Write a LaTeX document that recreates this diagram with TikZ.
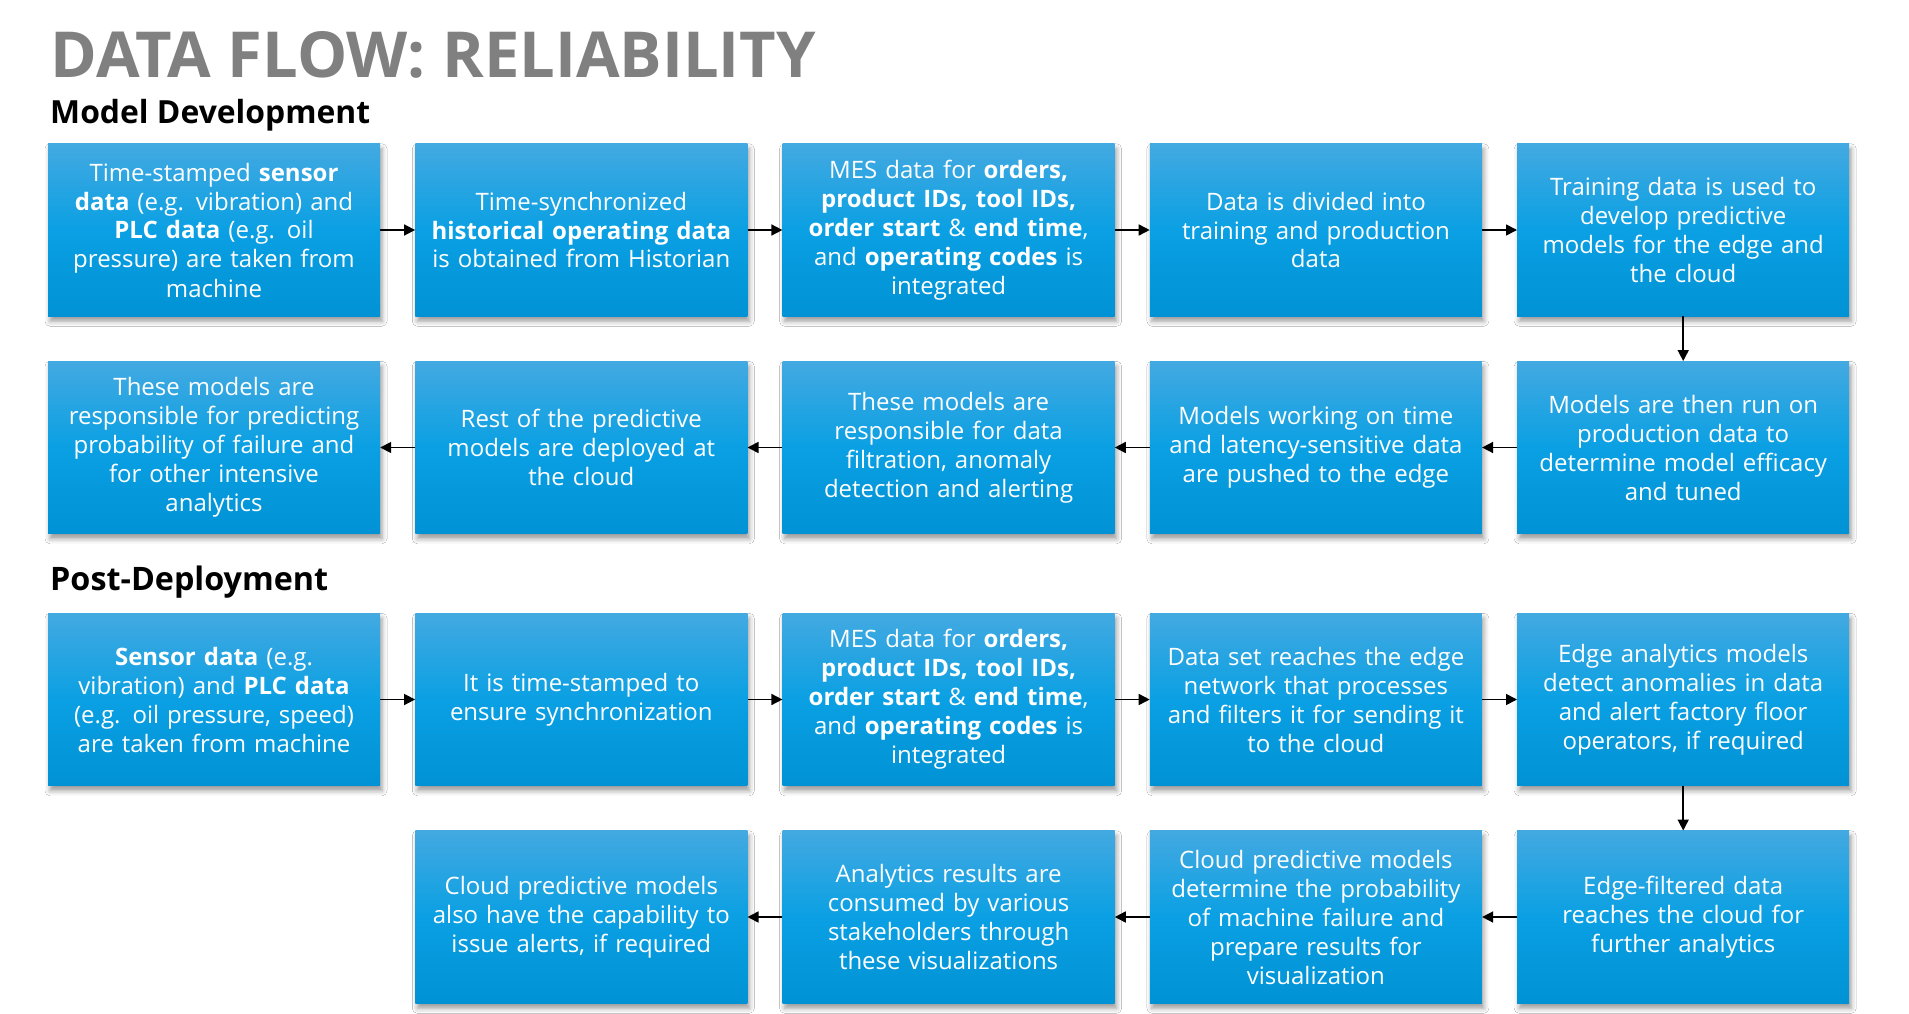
\documentclass[tikz,border=0pt]{standalone}
\usepackage{fontspec}
\setmainfont{Open Sans}
\usetikzlibrary{arrows.meta,shadows.blur}
\definecolor{boxtop}{HTML}{43A9E1}
\definecolor{boxmid}{HTML}{0AA0E3}
\definecolor{boxbot}{HTML}{0092D5}
\definecolor{titlegray}{HTML}{808080}
\tikzset{
  flowbox/.style={rectangle, minimum width=332pt, minimum height=172.5pt, inner sep=0pt,
    text width=326pt, align=center, text=white,
    top color=boxtop, bottom color=boxbot, middle color=boxmid,
    blur shadow={shadow xshift=2pt, shadow yshift=-5pt, shadow blur radius=5pt, shadow opacity=40},
    font=\fontsize{24}{29}\selectfont},
  flowarrow/.style={line width=1.6pt, -{Triangle[length=11pt,width=11pt]}},
  heading/.style={anchor=base west, inner sep=0pt, text=black}
}
\begin{document}
\begin{tikzpicture}[x=1pt,y=-1pt]
\useasboundingbox (0,0) rectangle (1909,1014);
\fill[white] (0,0) rectangle (1909,1014);
% titles
\node[heading, text=titlegray] (title) at (50.5,78) {\resizebox{765pt}{46pt}{\bfseries DATA FLOW: RELIABILITY}};
\node[heading] (mdhead) at (50,124) {\resizebox{320pt}{!}{\fontsize{30}{36}\selectfont\bfseries Model Development}};
\node[heading] (pdhead) at (50,590) {\resizebox{278pt}{!}{\fontsize{30}{36}\selectfont\bfseries Post-Deployment}};
% row 1
\node[flowbox] (a1) at (214,230) {Time-stamped \textbf{sensor}\\ \textbf{data} (e.g. vibration) and\\ \textbf{PLC data} (e.g. oil\\ pressure) are taken from\\ machine};
\node[flowbox] (a2) at (581.3,230) {Time-synchronized\\ \textbf{historical operating data}\\ is obtained from Historian};
\node[flowbox] (a3) at (948.6,230) {MES data for \textbf{orders,}\\ \textbf{product IDs, tool IDs,}\\ \textbf{order start} \& \textbf{end time},\\ and \textbf{operating codes} is\\ integrated};
\node[flowbox] (a4) at (1315.9,230) {Data is divided into\\ training and production\\ data};
\node[flowbox] (a5) at (1683.2,230) {Training data is used to\\ develop predictive\\ models for the edge and\\ the cloud};
% row 2
\node[flowbox] (b5) at (1683.2,447.5) {Models are then run on\\ production data to\\ determine model efficacy\\ and tuned};
\node[flowbox] (b4) at (1315.9,447.5) {Models working on time\\ and latency-sensitive data\\ are pushed to the edge};
\node[flowbox] (b3) at (948.6,447.5) {These models are\\ responsible for data\\ filtration, anomaly\\ detection and alerting};
\node[flowbox] (b2) at (581.3,447.5) {Rest of the predictive\\ models are deployed at\\ the cloud};
\node[flowbox] (b1) at (214,447.5) {These models are\\ responsible for predicting\\ probability of failure and\\ for other intensive\\ analytics};
% row 3
\node[flowbox] (c1) at (214,699.5) {\textbf{Sensor data} (e.g.\\ vibration) and \textbf{PLC data}\\ (e.g. oil pressure, speed)\\ are taken from machine};
\node[flowbox] (c2) at (581.3,699.5) {It is time-stamped to\\ ensure synchronization};
\node[flowbox] (c3) at (948.6,699.5) {MES data for \textbf{orders,}\\ \textbf{product IDs, tool IDs,}\\ \textbf{order start} \& \textbf{end time},\\ and \textbf{operating codes} is\\ integrated};
\node[flowbox] (c4) at (1315.9,699.5) {Data set reaches the edge\\ network that processes\\ and filters it for sending it\\ to the cloud};
\node[flowbox] (c5) at (1683.2,699.5) {Edge analytics models\\ detect anomalies in data\\ and alert factory floor\\ operators, if required};
% row 4
\node[flowbox] (d5) at (1683.2,917) {Edge-filtered data\\ reaches the cloud for\\ further analytics};
\node[flowbox] (d4) at (1315.9,917) {Cloud predictive models\\ determine the probability\\ of machine failure and\\ prepare results for\\ visualization};
\node[flowbox] (d3) at (948.6,917) {Analytics results are\\ consumed by various\\ stakeholders through\\ these visualizations};
\node[flowbox] (d2) at (581.3,917) {Cloud predictive models\\ also have the capability to\\ issue alerts, if required};
% arrows
\draw[flowarrow] (a1) -- (a2);
\draw[flowarrow] (a2) -- (a3);
\draw[flowarrow] (a3) -- (a4);
\draw[flowarrow] (a4) -- (a5);
\draw[flowarrow] (a5) -- (b5);
\draw[flowarrow] (b5) -- (b4);
\draw[flowarrow] (b4) -- (b3);
\draw[flowarrow] (b3) -- (b2);
\draw[flowarrow] (b2) -- (b1);
\draw[flowarrow] (c1) -- (c2);
\draw[flowarrow] (c2) -- (c3);
\draw[flowarrow] (c3) -- (c4);
\draw[flowarrow] (c4) -- (c5);
\draw[flowarrow] (c5) -- (d5);
\draw[flowarrow] (d5) -- (d4);
\draw[flowarrow] (d4) -- (d3);
\draw[flowarrow] (d3) -- (d2);
\end{tikzpicture}
\end{document}
